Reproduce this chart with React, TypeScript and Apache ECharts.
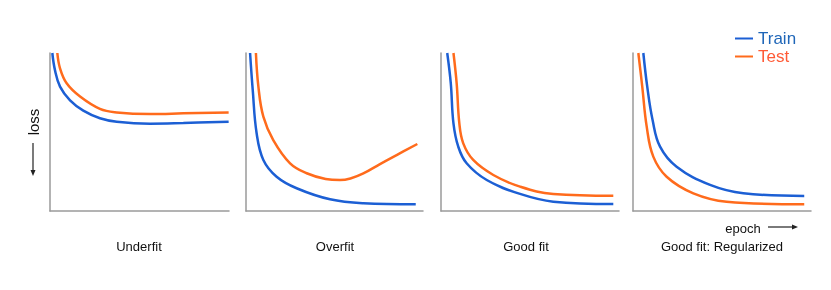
import React, { useEffect, useRef } from "react";
import * as echarts from "echarts";

const panelTitles = ["Underfit", "Overfit", "Good fit", "Good fit: Regularized"];
const seriesNames = ["Train", "Test"];

// [epoch(0-100), loss(0-100)]
const underfitTrain = [[1.3, 100], [2.8, 89], [5.6, 78.7], [11.2, 70], [18.6, 63.5], [27.9, 58.7], [37.3, 56.5], [55.9, 55.3], [74.5, 55.7], [99.8, 56.5]];
const underfitTest = [[4.1, 100], [5.6, 90.3], [9.3, 80.8], [16.8, 72.4], [27.9, 64.6], [37.3, 62.4], [55.9, 61.4], [74.5, 61.8], [99.8, 62.4]];
const overfitTrain = [[2.3, 100], [3.8, 76.6], [6, 49.2], [9.8, 32.3], [17.3, 21.7], [28.6, 14.4], [47.5, 7.4], [66.3, 4.9], [95.9, 4.2]];
const overfitTest = [[5.6, 100], [7, 78.7], [9.8, 59.7], [15.4, 44.9], [24.9, 30.2], [34.3, 23.9], [45, 20.3], [53.1, 19.6], [59, 20.6], [66.3, 23.8], [75.7, 29.7], [85.1, 35.4], [96.8, 42.4]];
const goodTrain = [[3.5, 100], [5.5, 80.8], [7, 55.5], [9.7, 40.7], [14.4, 30.2], [25.7, 19.6], [44.4, 10.8], [63.1, 5.9], [96.8, 4.4]];
const goodTest = [[7, 100], [8.8, 80.8], [10.3, 55.5], [12.5, 42.8], [18.1, 32.3], [29.4, 22.8], [44.4, 15.4], [63.1, 10.8], [96.8, 9.7]];
const regTrain = [[5.8, 100], [8, 78.7], [11, 57.6], [15.2, 40.7], [24.5, 28], [43.3, 16.5], [62, 11.2], [96.2, 9.5]];
const regTest = [[3, 100], [5.2, 78.7], [7.7, 53.4], [11.4, 34.4], [18.9, 21.7], [33.9, 11.2], [52.6, 5.9], [96.2, 4.2]];

const trainData = [underfitTrain, overfitTrain, goodTrain, regTrain];
const testData = [underfitTest, overfitTest, goodTest, regTest];

const BLUE = "#1c5fd4";
const ORANGE = "#ff6b1c";
const FONT = "Liberation Sans, Arial, sans-serif";

const gridLefts = [50, 246, 441, 633];
const gridWidths = [179, 177, 178, 178];

export default function App() {
  const ref = useRef<HTMLDivElement>(null);
  useEffect(() => {
    if (!ref.current) return;
    const chart = echarts.init(ref.current, undefined, { renderer: "svg" });
    const grids = gridLefts.map((l, i) => ({ left: l, top: 53, width: gridWidths[i], height: 158 }));
    const axisLine = { show: true, lineStyle: { color: "#9a9a9a", width: 1.5 } };
    const xAxes = grids.map((_, i) => ({
      type: "value", gridIndex: i, min: 0, max: 100,
      axisLine, axisTick: { show: false }, axisLabel: { show: false }, splitLine: { show: false },
    }));
    const yAxes = grids.map((_, i) => ({
      type: "value", gridIndex: i, min: 0, max: 100,
      axisLine, axisTick: { show: false }, axisLabel: { show: false }, splitLine: { show: false },
    }));
    const series: any[] = [];
    for (let i = 0; i < 4; i++) {
      series.push({
        name: seriesNames[0], type: "line", xAxisIndex: i, yAxisIndex: i, data: trainData[i],
        smooth: 0.4, showSymbol: false, lineStyle: { color: BLUE, width: 2.5 }, itemStyle: { color: BLUE },
      });
      series.push({
        name: seriesNames[1], type: "line", xAxisIndex: i, yAxisIndex: i, data: testData[i],
        smooth: 0.4, showSymbol: false, lineStyle: { color: ORANGE, width: 2.5 }, itemStyle: { color: ORANGE },
      });
    }
    const titleCenters = [139, 335, 526, 722];
    const graphic: any[] = titleCenters.map((x, i) => ({
      type: "text", x, y: 246,
      style: { text: panelTitles[i], fill: "#111", font: `13px ${FONT}`, align: "center", verticalAlign: "middle" },
    }));
    graphic.push(
      { type: "text", x: 33, y: 122, rotation: Math.PI / 2,
        style: { text: "loss", fill: "#111", font: `15px ${FONT}`, align: "center", verticalAlign: "middle" } },
      { type: "line", shape: { x1: 33, y1: 143, x2: 33, y2: 171 }, style: { stroke: "#222", lineWidth: 1.2 } },
      { type: "polygon", shape: { points: [[30.5, 170], [35.5, 170], [33, 176]] }, style: { fill: "#222" } },
      { type: "text", x: 743, y: 228,
        style: { text: "epoch", fill: "#111", font: `13px ${FONT}`, align: "center", verticalAlign: "middle" } },
      { type: "line", shape: { x1: 768, y1: 227, x2: 793, y2: 227 }, style: { stroke: "#222", lineWidth: 1.2 } },
      { type: "polygon", shape: { points: [[792, 224.5], [792, 229.5], [798, 227]] }, style: { fill: "#222" } },
    );
    chart.setOption({
      animation: false,
      grid: grids,
      xAxis: xAxes,
      yAxis: yAxes,
      series,
      legend: {
        orient: "vertical", left: 730, top: 25, itemWidth: 18, itemHeight: 2, itemGap: 1,
        icon: "rect",
        textStyle: { fontSize: 17, fontFamily: FONT },
        data: [
          { name: seriesNames[0], textStyle: { color: "#1f66b8" } },
          { name: seriesNames[1], textStyle: { color: "#ff5a36" } },
        ],
      },
      graphic,
    });
    return () => chart.dispose();
  }, []);
  return <div ref={ref} style={{ position: "fixed", left: 0, top: 0, width: 831, height: 290 }} />;
}
